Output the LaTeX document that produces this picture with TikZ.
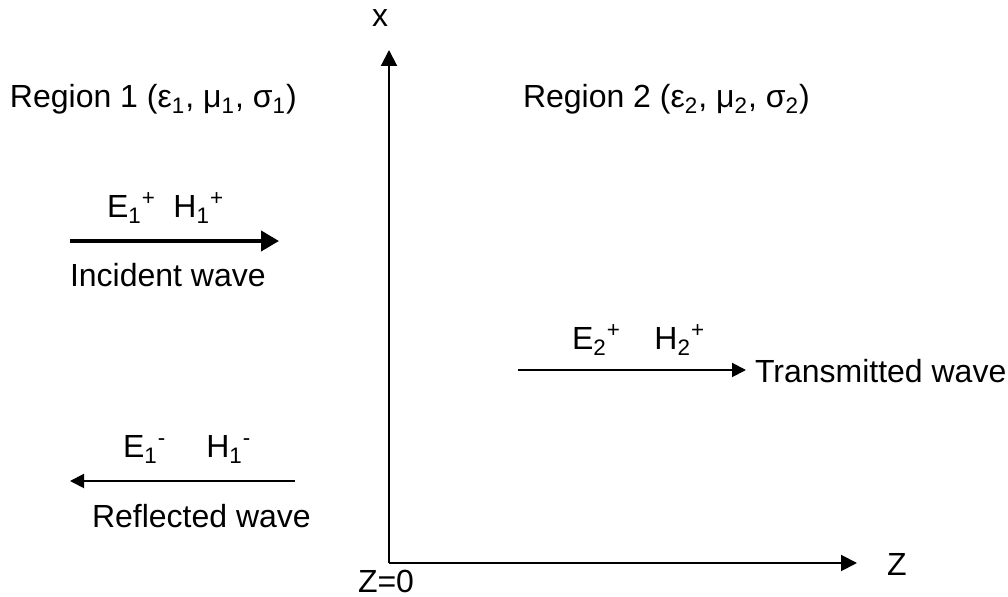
\documentclass[tikz,border=0pt]{standalone}
\usepackage{fontspec}
\setmainfont{Liberation Sans}
\usetikzlibrary{arrows.meta}
\begin{document}
\begin{tikzpicture}[x=0.5pt,y=-0.5pt,
  lbl/.style={inner sep=0pt,outer sep=0pt,font=\fontsize{16}{19}\selectfont},
  axis/.style={line width=1pt,-{Triangle[length=8pt,width=8pt]}},
  thickarr/.style={line width=2pt,-{Triangle[length=9pt,width=10pt]}},
  thinarr/.style={line width=1pt,-{Triangle[length=7pt,width=7pt]}}]
\useasboundingbox (0,0) rectangle (1008,597);
\coordinate (O) at (389,563);
\coordinate (xtip) at (389,50);
\coordinate (ztip) at (857,563);
\draw[axis] (O) -- (xtip);
\draw[axis] (O) -- (ztip);
\node[lbl,anchor=base] (xl) at (380,27) {x};
\node[lbl,anchor=base west] (zl) at (887,576) {Z};
\node[lbl,anchor=base west] (z0) at (358,593) {Z=0};
\node[lbl,anchor=base west] (r1) at (10,108) {Region 1 (ε\textsubscript{1}, μ\textsubscript{1}, σ\textsubscript{1})};
\node[lbl,anchor=base west] (r2) at (523,108) {Region 2 (ε\textsubscript{2}, μ\textsubscript{2}, σ\textsubscript{2})};
% incident
\coordinate (ia) at (70,241);
\coordinate (ib) at (279,241);
\draw[thickarr] (ia) -- (ib);
\node[lbl,anchor=base west] (ieh) at (107,218) {E\textsubscript{1}\textsuperscript{+}\hspace{0.55em}H\textsubscript{1}\textsuperscript{+}};
\node[lbl,anchor=base west] (iw) at (70,287) {Incident wave};
% transmitted
\coordinate (ta) at (518,370);
\coordinate (tb) at (746,370);
\draw[thinarr] (ta) -- (tb);
\node[lbl,anchor=base west] (teh) at (572,350) {E\textsubscript{2}\textsuperscript{+}\hspace{1.05em}H\textsubscript{2}\textsuperscript{+}};
\node[lbl,anchor=base west] (tw) at (755,383) {Transmitted wave};
% reflected
\coordinate (ra) at (295,481);
\coordinate (rb) at (70,481);
\draw[thinarr] (ra) -- (rb);
\node[lbl,anchor=base west] (reh) at (123,458) {E\textsubscript{1}\textsuperscript{-}\hspace{1.25em}H\textsubscript{1}\textsuperscript{-}};
\node[lbl,anchor=base west] (rw) at (92,528) {Reflected wave};
\end{tikzpicture}
\end{document}
